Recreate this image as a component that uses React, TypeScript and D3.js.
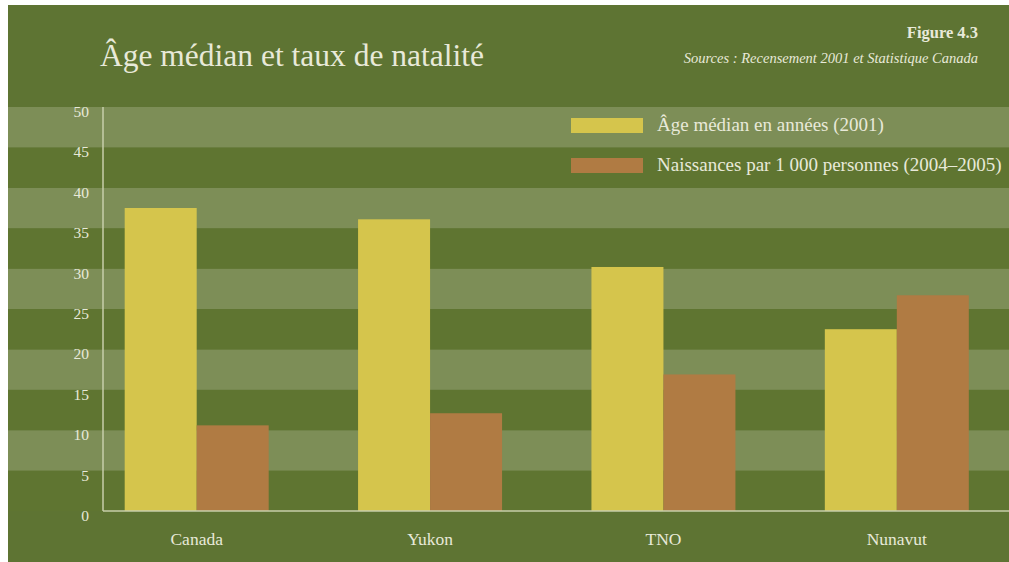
import React from "react";
import * as d3 from "d3";

const categories = ["Canada", "Yukon", "TNO", "Nunavut"];
const medianAge = [37.5, 36.1, 30.2, 22.5];
const birthRate = [10.6, 12.1, 16.9, 26.7];
const seriesKeys = ["age", "births"];
const seriesLabels = ["Âge médian en années (2001)", "Naissances par 1 000 personnes (2004–2005)"];
const yTicks = [0, 5, 10, 15, 20, 25, 30, 35, 40, 45, 50];

const W = 1009;
const H = 562;
const COLORS = { age: "#d5c54c", births: "#b07b43" };
const BG = "#5e7433";
const BAND_LIGHT = "#7d8e57";
const BAND_DARK = "#5f7531";
const TEXT = "#e8e9d9";
const AXIS = "#c7ceaa";
const SERIF = "'Liberation Serif', 'DejaVu Serif', serif";

export default function App() {
  const plotTop = 107;
  const plotBottom = 511;
  const axisX = 103;

  const y = d3.scaleLinear().domain([0, 50]).range([plotBottom, plotTop]);
  const x = d3
    .scaleBand<string>()
    .domain(categories)
    .range([80, 1013.5])
    .paddingInner(0.383)
    .paddingOuter(0.1915);
  const xs = d3.scaleBand<string>().domain(seriesKeys).range([0, x.bandwidth()]);

  const rows = categories.map((c, i) => ({ cat: c, age: medianAge[i], births: birthRate[i] }));

  const bands = d3.range(0, 10).map((k) => ({ lo: k * 5, hi: (k + 1) * 5, light: k % 2 === 1 }));

  return (
    <svg width={W} height={H} style={{ position: "absolute", left: 0, top: 0 }} fontFamily={SERIF}>
      <rect x={0} y={0} width={W} height={H} fill="#ffffff" />
      <rect x={8} y={5} width={W - 8} height={H - 5} fill={BG} />
      {bands.map((b) => (
        <rect
          key={b.lo}
          x={8}
          y={y(b.hi)}
          width={W - 8}
          height={y(b.lo) - y(b.hi)}
          fill={b.light ? BAND_LIGHT : BAND_DARK}
        />
      ))}

      <text x={100} y={66} fill={TEXT} fontSize={31.5}>
        Âge médian et taux de natalité
      </text>
      <text x={978} y={38} fill={TEXT} fontSize={16.5} fontWeight="bold" textAnchor="end">
        Figure 4.3
      </text>
      <text x={978} y={63} fill={TEXT} fontSize={14.5} fontStyle="italic" textAnchor="end">
        Sources : Recensement 2001 et Statistique Canada
      </text>

      {rows.map((r) => (
        <g key={r.cat} transform={`translate(${x(r.cat)},0)`}>
          {seriesKeys.map((k) => (
            <rect
              key={k}
              x={xs(k)}
              y={y((r as any)[k])}
              width={xs.bandwidth()}
              height={y(0) - y((r as any)[k])}
              fill={(COLORS as any)[k]}
            />
          ))}
        </g>
      ))}

      <line x1={axisX} x2={axisX} y1={plotTop} y2={plotBottom} stroke={AXIS} strokeWidth={1.5} />
      <line x1={axisX} x2={W} y1={plotBottom} y2={plotBottom} stroke={AXIS} strokeWidth={1.5} />

      {yTicks.map((t) => (
        <text key={t} x={89} y={y(t) + 10} fill={TEXT} fontSize={15.5} textAnchor="end">
          {t}
        </text>
      ))}

      {categories.map((c) => (
        <text
          key={c}
          x={(x(c) as number) + x.bandwidth() / 2}
          y={545}
          fill={TEXT}
          fontSize={17.5}
          textAnchor="middle"
        >
          {c}
        </text>
      ))}

      {seriesKeys.map((k, i) => (
        <g key={k} transform={`translate(571,${118 + i * 40})`}>
          <rect x={0} y={0} width={72} height={15} fill={(COLORS as any)[k]} />
          <text x={86} y={13} fill={TEXT} fontSize={19}>
            {seriesLabels[i]}
          </text>
        </g>
      ))}
    </svg>
  );
}
